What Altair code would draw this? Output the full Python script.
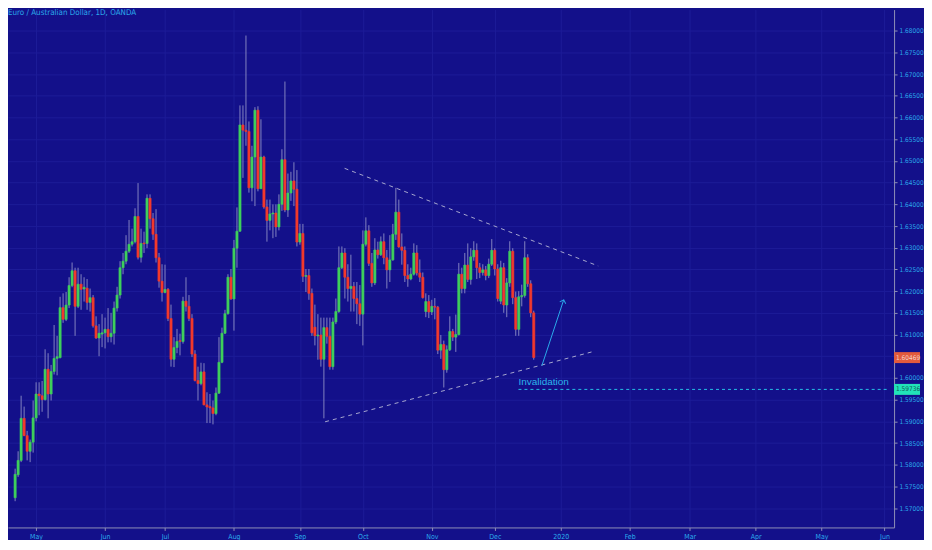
import altair as alt
import pandas as pd

# ---- candle data (trading-day index, EUR/AUD daily, OANDA) ----
opens = [1.5724,1.5777,1.5810,1.5907,1.5867,1.5831,1.5852,1.5908,1.5963,1.5959,
         1.5950,1.6020,1.5963,1.6015,1.6045,1.6047,1.6162,1.6135,1.6168,1.6213,
         1.6247,1.6165,1.6216,1.6205,1.6207,1.6174,1.6185,1.6120,1.6092,1.6101,
         1.6104,1.6112,1.6095,1.6103,1.6161,1.6191,1.6254,1.6269,1.6292,1.6308,
         1.6314,1.6372,1.6278,1.6311,1.6310,1.6414,1.6367,1.6331,1.6277,1.6223,
         1.6197,1.6204,1.6137,1.6043,1.6070,1.6086,1.6084,1.6177,1.6165,1.6137,
         1.6055,1.5994,1.5987,1.6014,1.5938,1.5934,1.5931,1.5918,1.5965,1.6036,
         1.6103,1.6148,1.6232,1.6182,1.6299,1.6338,1.6583,1.6571,1.6568,1.6438,
         1.6509,1.6617,1.6436,1.6509,1.6394,1.6363,1.6378,1.6380,1.6348,1.6400,
         1.6503,1.6387,1.6426,1.6454,1.6435,1.6313,1.6333,1.6234,1.6236,1.6195,
         1.6117,1.6097,1.6099,1.6043,1.6116,1.6096,1.6026,1.6129,1.6153,1.6254,
         1.6288,1.6232,1.6206,1.6211,1.6183,1.6171,1.6147,1.6308,1.6339,1.6264,
         1.6219,1.6295,1.6284,1.6314,1.6277,1.6249,1.6272,1.6331,1.6382,1.6302,
         1.6294,1.6236,1.6228,1.6239,1.6288,1.6242,1.6232,1.6153,1.6176,1.6152,
         1.6165,1.6163,1.6064,1.6077,1.6019,1.6065,1.6107,1.6094,1.6100,1.6239,
         1.6206,1.6260,1.6227,1.6279,1.6294,1.6254,1.6243,1.6249,1.6236,1.6262,
         1.6294,1.6251,1.6177,1.6254,1.6168,1.6219,1.6292,1.6185,1.6112,1.6187,
         1.6190,1.6277,1.6217,1.6150]
highs = [1.5791,1.5831,1.5959,1.5934,1.5878,1.5858,1.5948,1.5990,1.5990,1.5993,
         1.6066,1.6057,1.6030,1.6122,1.6097,1.6187,1.6195,1.6198,1.6232,1.6266,
         1.6254,1.6254,1.6239,1.6232,1.6228,1.6206,1.6191,1.6142,1.6124,1.6147,
         1.6139,1.6161,1.6150,1.6176,1.6210,1.6269,1.6288,1.6329,1.6364,1.6344,
         1.6391,1.6449,1.6344,1.6337,1.6423,1.6423,1.6380,1.6389,1.6288,1.6262,
         1.6261,1.6207,1.6169,1.6094,1.6113,1.6102,1.6187,1.6232,1.6191,1.6147,
         1.6064,1.6026,1.6035,1.6034,1.5967,1.5963,1.5948,1.5978,1.6094,1.6116,
         1.6157,1.6239,1.6251,1.6318,1.6393,1.6628,1.6628,1.6789,1.6591,1.6535,
         1.6624,1.6626,1.6596,1.6512,1.6411,1.6411,1.6400,1.6400,1.6423,1.6527,
         1.6683,1.6471,1.6475,1.6497,1.6479,1.6355,1.6355,1.6251,1.6251,1.6206,
         1.6169,1.6147,1.6139,1.6139,1.6139,1.6139,1.6139,1.6183,1.6303,1.6303,
         1.6299,1.6262,1.6284,1.6221,1.6221,1.6214,1.6340,1.6370,1.6352,1.6288,
         1.6322,1.6314,1.6326,1.6333,1.6295,1.6329,1.6355,1.6438,1.6411,1.6333,
         1.6303,1.6262,1.6254,1.6310,1.6306,1.6273,1.6243,1.6195,1.6191,1.6180,
         1.6184,1.6166,1.6099,1.6086,1.6075,1.6142,1.6113,1.6146,1.6265,1.6254,
         1.6288,1.6310,1.6299,1.6315,1.6310,1.6265,1.6262,1.6258,1.6275,1.6320,
         1.6299,1.6262,1.6270,1.6265,1.6230,1.6315,1.6299,1.6199,1.6200,1.6215,
         1.6315,1.6285,1.6225,1.6155]
lows = [1.5716,1.5772,1.5806,1.5866,1.5810,1.5806,1.5828,1.5900,1.5914,1.5922,
        1.5948,1.5907,1.5948,1.6008,1.6006,1.6045,1.6127,1.6131,1.6161,1.6209,
        1.6097,1.6161,1.6157,1.6176,1.6157,1.6153,1.6116,1.6090,1.6050,1.6071,
        1.6068,1.6082,1.6082,1.6077,1.6153,1.6183,1.6239,1.6262,1.6288,1.6303,
        1.6310,1.6273,1.6266,1.6288,1.6299,1.6344,1.6318,1.6266,1.6208,1.6176,
        1.6195,1.6131,1.6026,1.6025,1.6057,1.6052,1.6079,1.6153,1.6131,1.6048,
        1.5992,1.5948,1.5983,1.5937,1.5896,1.5896,1.5893,1.5914,1.5963,1.6034,
        1.6101,1.6146,1.6180,1.6109,1.6254,1.6337,1.6461,1.6535,1.6427,1.6407,
        1.6396,1.6430,1.6436,1.6390,1.6314,1.6340,1.6322,1.6325,1.6340,1.6385,
        1.6382,1.6371,1.6408,1.6396,1.6303,1.6307,1.6221,1.6198,1.6180,1.6097,
        1.6075,1.6042,1.6026,1.5907,1.6079,1.6019,1.6019,1.6124,1.6150,1.6251,
        1.6183,1.6176,1.6153,1.6153,1.6124,1.6120,1.6075,1.6303,1.6258,1.6210,
        1.6214,1.6275,1.6281,1.6262,1.6206,1.6221,1.6270,1.6318,1.6300,1.6261,
        1.6221,1.6210,1.6225,1.6236,1.6236,1.6221,1.6183,1.6140,1.6138,1.6145,
        1.6135,1.6055,1.6044,1.5978,1.6012,1.6062,1.6085,1.6060,1.6098,1.6195,
        1.6195,1.6221,1.6215,1.6270,1.6228,1.6230,1.6236,1.6225,1.6230,1.6258,
        1.6236,1.6176,1.6170,1.6150,1.6140,1.6210,1.6170,1.6097,1.6097,1.6165,
        1.6185,1.6210,1.6140,1.6042]
closes = [1.5778,1.5810,1.5907,1.5867,1.5831,1.5852,1.5908,1.5963,1.5959,1.5950,
          1.6020,1.5963,1.6015,1.6045,1.6049,1.6162,1.6135,1.6168,1.6213,1.6247,
          1.6165,1.6216,1.6204,1.6209,1.6174,1.6185,1.6120,1.6092,1.6103,1.6104,
          1.6112,1.6095,1.6103,1.6161,1.6191,1.6254,1.6269,1.6292,1.6308,1.6314,
          1.6372,1.6278,1.6310,1.6309,1.6414,1.6367,1.6331,1.6277,1.6223,1.6197,
          1.6204,1.6137,1.6043,1.6070,1.6084,1.6084,1.6177,1.6165,1.6137,1.6055,
          1.5994,1.5987,1.6014,1.5938,1.5933,1.5931,1.5918,1.5965,1.6036,1.6103,
          1.6148,1.6232,1.6182,1.6299,1.6338,1.6583,1.6571,1.6568,1.6438,1.6509,
          1.6617,1.6436,1.6509,1.6394,1.6363,1.6378,1.6380,1.6348,1.6400,1.6503,
          1.6387,1.6426,1.6454,1.6435,1.6313,1.6333,1.6234,1.6236,1.6195,1.6104,
          1.6097,1.6099,1.6043,1.6116,1.6096,1.6026,1.6129,1.6153,1.6254,1.6288,
          1.6232,1.6206,1.6211,1.6183,1.6171,1.6147,1.6308,1.6339,1.6264,1.6219,
          1.6295,1.6284,1.6314,1.6277,1.6249,1.6272,1.6331,1.6382,1.6302,1.6294,
          1.6236,1.6228,1.6239,1.6288,1.6242,1.6232,1.6185,1.6176,1.6152,1.6165,
          1.6163,1.6064,1.6077,1.6019,1.6065,1.6107,1.6094,1.6100,1.6239,1.6206,
          1.6260,1.6227,1.6279,1.6294,1.6254,1.6243,1.6249,1.6236,1.6262,1.6294,
          1.6251,1.6183,1.6254,1.6168,1.6219,1.6292,1.6185,1.6112,1.6187,1.6190,
          1.6277,1.6217,1.6150,1.6047]

# month ticks: trading-day index of first session in each month
month_idx = [7, 30, 50, 73, 95, 116, 139, 160, 182, 205, 225, 247, 269, 290]
month_lbl = ["May", "Jun", "Jul", "Aug", "Sep", "Oct", "Nov", "Dec", "2020",
             "Feb", "Mar", "Apr", "May", "Jun"]
price_ticks = [1.570, 1.575, 1.580, 1.585, 1.590, 1.595, 1.600, 1.605, 1.610,
               1.615, 1.620, 1.625, 1.630, 1.635, 1.640, 1.645, 1.650, 1.655,
               1.660, 1.665, 1.670, 1.675, 1.680]
hidden_tick = 1.605  # covered by the last-price badge in the reference

# drawings (index, price)
tri_x1 = [109.9, 103.4]
tri_y1 = [1.6483, 1.5899]
tri_x2 = [194.5, 193.5]
tri_y2 = [1.6258, 1.6062]
arrow_x = [175.7, 183.0]
arrow_y = [1.6028, 1.6180]
invalid_start = 167.9
invalid_price = 1.59736
last_price = 1.60469

X_DOM = [-0.712, 291.53]
Y_DOM = [1.56555, 1.68488]
W, H = 888, 519

BG = "#13108a"
GRID = "#1d1c98"
GREEN = "#3ecf5c"
RED = "#f2392c"
WICK = "#8383c0"
CYAN = "#2aa9ea"
AXIS = "#8f8fb8"
LBL_FONT = "Liberation Sans Narrow, DejaVu Sans Condensed, Liberation Sans"

df = pd.DataFrame({"i": list(range(len(closes))), "open": opens, "high": highs,
                   "low": lows, "close": closes})

xs = alt.Scale(domain=X_DOM, nice=False, zero=False)
ys = alt.Scale(domain=Y_DOM, nice=False, zero=False)

label_expr = ("[" + ",".join("'%s'" % s for s in month_lbl) + "][indexof(["
              + ",".join(str(v) for v in month_idx) + "], datum.value)]")
y_label_expr = ("abs(datum.value - %s) < 0.0001 ? '' : format(datum.value, '.5f')"
                % hidden_tick)

x_axis = alt.Axis(values=month_idx, labelExpr=label_expr, title=None, orient="bottom",
                  grid=True, gridColor=GRID, tickSize=3, labelPadding=2,
                  labelFontSize=7, labelColor=CYAN, domainColor=AXIS, tickColor=AXIS,
                  labelFont=LBL_FONT, labelFlush=False, labelOverlap=False)
y_axis = alt.Axis(values=price_ticks, labelExpr=y_label_expr, title=None, orient="right",
                  grid=True, gridColor=GRID, tickSize=3, labelPadding=2,
                  labelFontSize=6.5, labelColor=CYAN, domainColor=AXIS, tickColor=AXIS,
                  labelFont=LBL_FONT, labelOverlap=False, labelFlush=False,
                  tickCount=len(price_ticks))


def X(field):
    return alt.X(field, type="quantitative", scale=xs, axis=x_axis)


def Y(field):
    return alt.Y(field, type="quantitative", scale=ys, axis=y_axis)


base = alt.Chart(df)
cond_col = alt.condition("datum.close >= datum.open", alt.value(GREEN), alt.value(RED))

wicks = base.mark_rule(color=WICK, strokeWidth=1, clip=True).encode(
    x=X("i"), y=Y("low"), y2="high:Q")
bodies = base.mark_bar(size=2.2, strokeWidth=0.6, clip=True).encode(
    x=X("i"), y=Y("open"), y2="close:Q", fill=cond_col, stroke=cond_col)

tri_df = pd.DataFrame({"x1": tri_x1, "y1": tri_y1, "x2": tri_x2, "y2": tri_y2})
tri = alt.Chart(tri_df).mark_rule(color="#a7a7cf", strokeWidth=1, strokeDash=[4, 4]).encode(
    x=X("x1"), y=Y("y1"), x2="x2:Q", y2="y2:Q")

arr_df = pd.DataFrame({"x1": [arrow_x[0]], "y1": [arrow_y[0]],
                       "x2": [arrow_x[1]], "y2": [arrow_y[1]]})
arrow_line = alt.Chart(arr_df).mark_rule(color=CYAN, strokeWidth=1).encode(
    x=X("x1"), y=Y("y1"), x2="x2:Q", y2="y2:Q")
arrow_head = alt.Chart(arr_df).mark_point(
    shape="M-1,1L0,0L1,1", filled=False, color=CYAN, strokeWidth=1, size=40, angle=18,
    opacity=1).encode(x=X("x2"), y=Y("y2"))

inv_df = pd.DataFrame({"x1": [invalid_start], "x2": [X_DOM[1]], "y": [invalid_price],
                       "t": ["Invalidation"]})
inv_line = alt.Chart(inv_df).mark_rule(color="#25bfe6", strokeWidth=1, strokeDash=[3, 3]).encode(
    x=X("x1"), x2="x2:Q", y=Y("y"))
inv_text = alt.Chart(inv_df).mark_text(align="left", baseline="bottom", dy=-2, fontSize=10,
                                       color="#2cb4ec", font="Liberation Sans").encode(
    x=X("x1"), y=Y("y"), text="t:N")

badge_df = pd.DataFrame({"p": [last_price, invalid_price],
                         "t": ["%.5f" % last_price, "%.5f" % invalid_price],
                         "bg": ["#e25a3c", "#22e3b8"], "fg": ["#f6d2c8", "#0d5c5a"]})
badge_bg = alt.Chart(badge_df).mark_tick(orient="horizontal", size=26, thickness=11,
                                         opacity=1, clip=False).encode(
    x=alt.value(W + 13), y=Y("p"), color=alt.Color("bg:N", scale=None))
badge_tx = alt.Chart(badge_df).mark_text(align="left", baseline="middle", fontSize=6.5,
                                         font=LBL_FONT).encode(
    x=alt.value(W + 2), y=Y("p"), text="t:N", color=alt.Color("fg:N", scale=None))

title = alt.Chart(pd.DataFrame({"t": ["Euro / Australian Dollar, 1D, OANDA"]})).mark_text(
    align="left", baseline="middle", fontSize=8, color=CYAN, font=LBL_FONT).encode(
    x=alt.value(0), y=alt.value(3), text="t:N")

chart = alt.layer(wicks, bodies, tri, arrow_line, arrow_head, inv_line, inv_text,
                  badge_bg, badge_tx, title).properties(
    width=W, height=H, background=BG, padding=0,
).configure_view(stroke=None, fill=BG).configure_axisY(labelOverlap=False)

chart.save("out.html", embed_options={"renderer": "svg", "actions": False})
